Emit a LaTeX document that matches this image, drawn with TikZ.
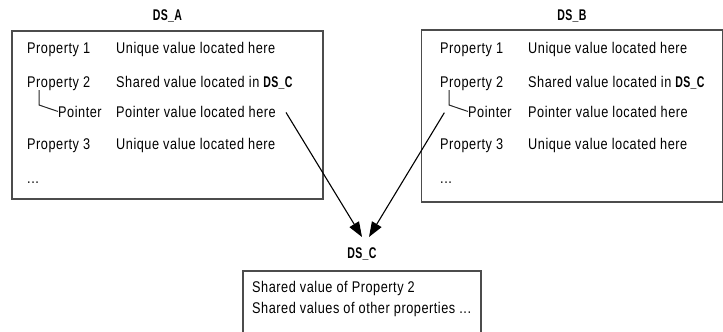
\documentclass[tikz,border=0pt]{standalone}
\usepackage{fontspec}
\setmainfont{Liberation Sans}[FakeStretch=0.82, LetterSpace=3.5]
\newfontfamily\dsfont{Liberation Sans Bold}[FakeStretch=0.68, LetterSpace=2]
\newcommand{\dsname}[1]{{\dsfont DS\_#1}}
\usetikzlibrary{arrows.meta, positioning}

\begin{document}
\begin{tikzpicture}[
    x=1pt, y=-1pt,
    font=\fontsize{15.5}{18}\selectfont,
    dsbox/.style={draw=black!70, line width=1.4pt, rectangle, inner sep=0pt},
    dstitle/.style={inner sep=0pt},
    rowtext/.style={anchor=base west, inner sep=0pt},
    treeline/.style={draw=black!85, line width=1pt},
    linkarrow/.style={line width=1.1pt, -{Triangle[length=15pt, width=11pt]}}
]
\useasboundingbox (0,0) rectangle (723,332);

\node[dsbox, minimum width=311pt, minimum height=168pt] (boxA) at (167.5,115) {};
\node[dsbox, minimum width=301pt, minimum height=172pt] (boxB) at (572,116) {};
\node[dsbox, minimum width=238pt, minimum height=80pt] (boxC) at (362,311) {};

\node[dstitle, above=8pt of boxA] (titleA) {\dsname{A}};
\node[dstitle, above=7pt of boxB] (titleB) {\dsname{B}};
\node[dstitle, above=10pt of boxC] (titleC) {\dsname{C}};

\node[rowtext] (propA1) at (27,53)  {Property 1};
\node[rowtext] (propA2) at (27,87)  {Property 2};
\node[rowtext] (ptrA)   at (58,117) {Pointer};
\node[rowtext] (propA3) at (27,149) {Property 3};
\node[rowtext] (moreA)  at (27,183) {...};
\node[rowtext] (valA1)  at (116,53)  {Unique value located here};
\node[rowtext] (valA2)  at (116,87)  {Shared value located in \dsname{C}};
\node[rowtext] (valA3)  at (116,117) {Pointer value located here};
\node[rowtext] (valA4)  at (116,149) {Unique value located here};

\node[rowtext] (propB1) at (440,53)  {Property 1};
\node[rowtext] (propB2) at (440,87)  {Property 2};
\node[rowtext] (ptrB)   at (468,117) {Pointer};
\node[rowtext] (propB3) at (440,149) {Property 3};
\node[rowtext] (moreB)  at (440,183) {...};
\node[rowtext] (valB1)  at (528,53)  {Unique value located here};
\node[rowtext] (valB2)  at (528,87)  {Shared value located in \dsname{C}};
\node[rowtext] (valB3)  at (528,117) {Pointer value located here};
\node[rowtext] (valB4)  at (528,149) {Unique value located here};

\node[rowtext] (valC1) at (252,292) {Shared value of Property 2};
\node[rowtext] (valC2) at (252,313) {Shared values of other properties ...};

\coordinate (cornerA) at (39,105);
\coordinate (cornerB) at (449,105);
\coordinate (tipA) at (362,237);
\coordinate (tipB) at (369,237);

\draw[treeline] (39,90) -- (cornerA) -- (ptrA.west);
\draw[treeline] (449,90) -- (cornerB) -- (ptrB.west);

\draw[linkarrow] ([xshift=10pt, yshift=-1pt]valA3.east) -- (tipA);
\draw[linkarrow, shorten <=9pt] (cornerB) -- (tipB);
\end{tikzpicture}
\end{document}
